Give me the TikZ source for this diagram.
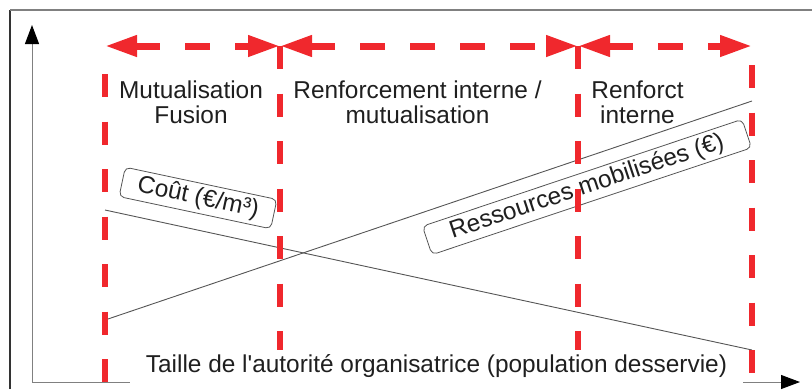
\documentclass[tikz,border=0pt]{standalone}
\usepackage{fontspec}
\newfontfamily\lbf{Liberation Sans}
\usetikzlibrary{arrows.meta}
\definecolor{rd}{RGB}{240,40,45}
\definecolor{ln}{RGB}{85,85,85}
\begin{document}
\begin{tikzpicture}[x=1bp,y=-1bp,
  redv/.style={draw=rd, line width=6.5bp, dash pattern=on 23bp off 24.5bp},
  redh/.style={draw=rd, line width=7bp, dash pattern=on 25bp off 25bp,
    {Triangle[length=32bp,width=20bp]}-{Triangle[length=32bp,width=20bp]}},
  lab/.style={font=\lbf\fontsize{24.4bp}{25bp}\selectfont, align=center, inner sep=0pt, text=black!88},
  tag/.style={draw=ln, fill=white, rounded corners=5bp, line width=0.8bp,
    font=\lbf\fontsize{24.4bp}{25bp}\selectfont, text=black!88, inner sep=0pt, minimum height=30bp},
  trend/.style={draw=ln, line width=0.9bp},
  axis/.style={draw=gray, line width=1bp},
  axtip/.style={-{Triangle[length=19bp,width=14bp,color=black]}}
]
\useasboundingbox (0,0) rectangle (812,389);
% frame
\coordinate (f0) at (10,389);
\coordinate (f1) at (10,10);
\coordinate (f2) at (812,10);
\draw[black!80, line width=1.2bp] (f0) -- (f1);
\draw[gray, line width=1.2bp] (f1) -- (f2);
% axes
\coordinate (O) at (32,382);
\coordinate (Ytop) at (32,25);
\coordinate (Xa) at (130,382);
\coordinate (Xb) at (743,382);
\coordinate (Xtip) at (800,382);
\draw[axis, axtip] (O) -- (Ytop);
\draw[axis] (O) -- (Xa);
\draw[axis, axtip] (Xb) -- (Xtip);
% trend lines
\coordinate (c0) at (105,210);
\coordinate (c1) at (752,350);
\coordinate (r0) at (105,320);
\coordinate (r1) at (752,101);
\draw[trend] (c0) -- (c1);
\draw[trend] (r0) -- (r1);
% tags
\node[tag, rotate=-12, minimum width=155bp] (cout) at (198,198) {Coût (€/m³)};
\node[tag, rotate=18.5, minimum width=337bp] (res) at (587,187) {Ressources mobilisées (€)};
% red verticals
\coordinate (v1a) at (105,74);  \coordinate (v1b) at (105,382);
\coordinate (v2a) at (280,46);  \coordinate (v2b) at (280,350);
\coordinate (v3a) at (578,46);  \coordinate (v3b) at (578,350);
\coordinate (v4a) at (752,65);  \coordinate (v4b) at (752,373);
\draw[redv] (v1a) -- (v1b);
\draw[redv] (v2a) -- (v2b);
\draw[redv] (v3a) -- (v3b);
\draw[redv] (v4a) -- (v4b);
% red arrows
\coordinate (h1) at (105,46);
\coordinate (h2) at (280,46);
\coordinate (h3) at (578,46);
\coordinate (h4) at (752,46);
\draw[redh] (h1) -- (h2);
\draw[redh] (h2) -- (h3);
\draw[redh] (h3) -- (h4);
% labels
\node[lab, anchor=north] (mf) at (191,81) {Mutualisation\\Fusion};
\node[lab, anchor=north] (rim) at (417.5,81) {Renforcement interne /\\mutualisation};
\node[lab, anchor=north] (ri) at (637.5,81) {Renforct\\interne};
\node[lab, anchor=base] (taille) at (436.5,372) {Taille de l'autorité organisatrice (population desservie)};
\end{tikzpicture}
\end{document}
